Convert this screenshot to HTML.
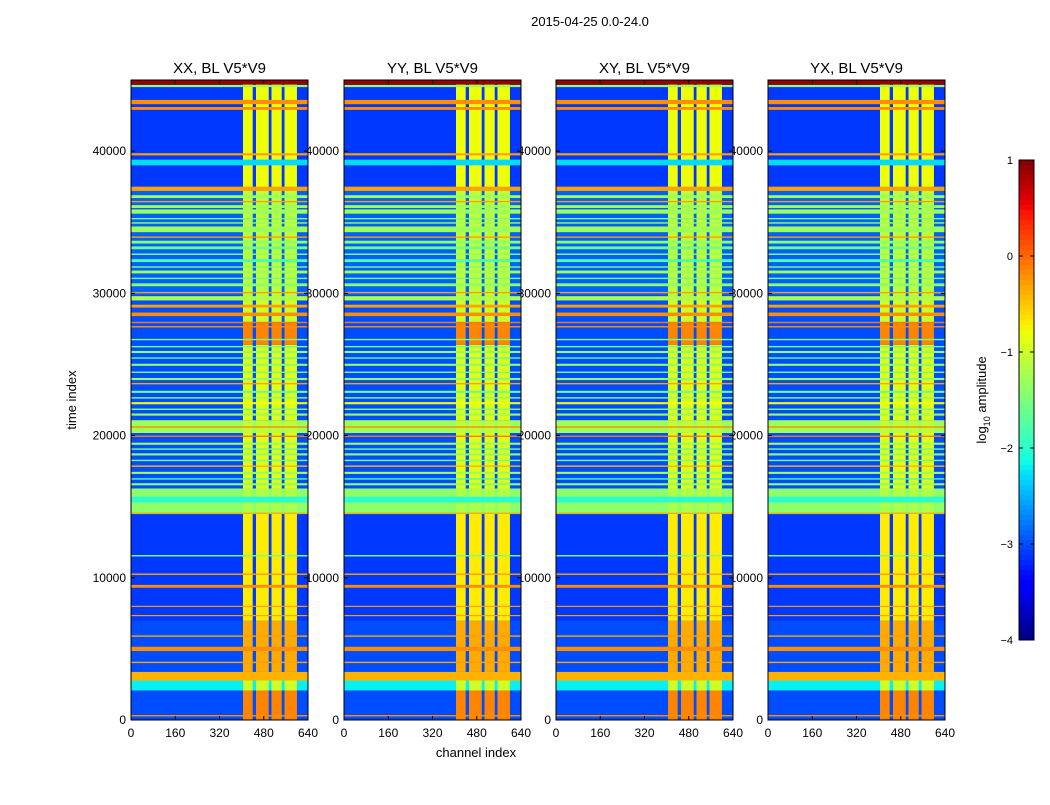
<!DOCTYPE html>
<html><head><meta charset="utf-8"><style>
body{margin:0;background:#fff;}
svg text{font-family:"Liberation Sans",sans-serif;}
</style></head><body>
<svg id="fig" width="1050" height="800" xmlns="http://www.w3.org/2000/svg">
<rect width="1050" height="800" fill="#fff"/>
<text x="590" y="26" font-size="13" text-anchor="middle">2015-04-25 0.0-24.0</text>
<text x="476" y="757" font-size="13" text-anchor="middle">channel index</text>
<text transform="translate(76,400) rotate(-90)" font-size="13" text-anchor="middle">time index</text>
<g id="panels"></g>
<g id="cbar"></g>
</svg>
<script>
// ---- data ----
const panelTitles = ["XX, BL V5*V9","YY, BL V5*V9","XY, BL V5*V9","YX, BL V5*V9"];
const xTicks = [0,160,320,480,640];
const yTicks = [0,10000,20000,30000,40000];
const cbTicks = [1,0,-1,-2,-3,-4];
// time regions: start, end, background level, RFI-channel level (log10 amplitude)
const regionStart = [0,2100,2800,3400,7000,14500,16300,20200,21100,26400,28000,29900,37500,44700];
const regionEnd   = [2100,2800,3400,7000,14500,16300,20200,21100,26400,28000,29900,37500,44700,45000];
const regionBg    = [-3.0,-2.2,-0.4,-3.0,-3.1,-1.4,-3.0,-1.3,-3.0,-3.0,-3.0,-2.9,-3.1,0.9];
const regionRfi   = [-0.15,-1.0,-0.4,-0.35,-0.7,-1.2,-0.9,-1.1,-0.9,-0.15,-1.0,-1.1,-0.8,0.9];
// RFI channel blocks
const rfiStart = [405,452,508,555];
const rfiEnd   = [440,498,545,600];
// horizontal stripes: start, end, level
const stripeStart = [250,4000,4850,5850,7300,7950,9300,10200,11500,14500,15300,16500,16900,17300,17800,18200,18600,19000,19350,19900,20550,21400,21800,22200,22600,23000,23600,23900,24400,24900,25400,25800,26200,26700,27600,27900,28400,29000,29500,30000,30500,31000,31400,31800,32200,32700,33100,33500,33900,34300,34900,35200,35600,36000,36400,36700,37200,39000,39700,42900,43300,44500];
const stripeEnd   = [350,4100,5150,5950,7380,8030,9500,10300,11600,14580,15700,16650,17000,17450,17900,18300,18750,19100,19500,20000,20650,21550,21900,22350,22700,23150,23700,24050,24500,25050,25500,25950,26300,26800,27700,28000,28650,29200,29800,30100,30700,31100,31600,31900,32400,32800,33300,33700,34000,34700,35000,35300,35900,36200,36500,36900,37500,39400,39850,43100,43600,44650];
const stripeVal   = [-0.2,-0.3,-0.2,-0.3,-0.3,-0.3,-0.2,-0.3,-1.5,-0.3,-2.0,-1.4,-1.8,-1.3,-0.4,-1.5,-1.4,-1.6,-1.3,-0.1,-0.2,-1.3,-1.5,-0.8,-1.4,-1.6,-0.3,-1.4,-1.5,-1.4,-1.7,-1.4,-1.6,-1.5,-0.2,-0.1,-0.2,-0.3,-1.2,-0.3,-1.4,-1.6,-1.3,-1.5,-1.8,-1.4,-1.6,-1.4,-0.3,-1.3,-1.3,-1.5,-1.3,-1.3,-0.3,-1.3,-0.3,-2.3,-0.3,-0.2,-0.2,-1.3];

// ---- helpers ----
const JR=[[0,0],[0.35,0],[0.66,1],[0.89,1],[1,0.5]];
const JG=[[0,0],[0.125,0],[0.375,1],[0.64,1],[0.91,0],[1,0]];
const JB=[[0,0.5],[0.11,1],[0.34,1],[0.65,0],[1,0]];
function seg(s,t){for(let i=1;i<s.length;i++){if(t<=s[i][0]){const a=s[i-1],b=s[i];return a[1]+(b[1]-a[1])*(t-a[0])/(b[0]-a[0]);}}return s[s.length-1][1];}
function jet(v){
  let t=(v+4)/5; t=Math.max(0,Math.min(1,t));
  return `rgb(${Math.round(seg(JR,t)*255)},${Math.round(seg(JG,t)*255)},${Math.round(seg(JB,t)*255)})`;
}
const NS="http://www.w3.org/2000/svg";
function mk(tag,attrs,parent){const e=document.createElementNS(NS,tag);for(const k in attrs)e.setAttribute(k,attrs[k]);parent.appendChild(e);return e;}
const panelX=[131,344,556,768], PW=177, PT=80, PB=720;
const panels=document.getElementById('panels');
const labelsG=mk('g',{},panels), imgsG=mk('g',{},panels), frameG=mk('g',{},panels);
panelX.forEach((x0,p)=>{
  const xs=c=>x0+c/640*PW, ys=t=>PB-t/45000*(PB-PT);
  yTicks.forEach(t=>{const e=mk('text',{x:x0-5,y:ys(t)+4,'font-size':12,'text-anchor':'end'},labelsG);e.textContent=t;
    
    });
  xTicks.forEach(c=>{const e=mk('text',{x:xs(c),y:737,'font-size':12,'text-anchor':'middle'},labelsG);e.textContent=c;
    
    });
  const g=mk('g',{},imgsG);
  
  
  regionStart.forEach((s,i)=>{
    const y1=ys(regionEnd[i]), y2=ys(s);
    const r=mk('rect',{x:x0,y:y1,width:PW,height:y2-y1+0.3,fill:jet(regionBg[i])},g);
    
    
    rfiStart.forEach((c,j)=>{
      const q=mk('rect',{x:xs(c),y:y1,width:xs(rfiEnd[j])-xs(c),height:y2-y1+0.3,fill:jet(regionRfi[i])},g);
      
      
    });
  });
  stripeStart.forEach((s,i)=>{
    const y1=ys(stripeEnd[i]), y2=ys(s);
    const r=mk('rect',{x:x0,y:y1,width:PW,height:Math.max(1,y2-y1),fill:jet(stripeVal[i])},g);
    
    
  });
  mk('rect',{x:x0,y:PT,width:PW,height:PB-PT,fill:'none',stroke:'#000','stroke-width':1},frameG);
  xTicks.forEach(c=>{mk('line',{x1:xs(c),x2:xs(c),y1:PB,y2:PB-4,stroke:'#000'},frameG);mk('line',{x1:xs(c),x2:xs(c),y1:PT,y2:PT+4,stroke:'#000'},frameG);});
  yTicks.forEach(t=>{mk('line',{x1:x0,x2:x0+4,y1:ys(t),y2:ys(t),stroke:'#000'},frameG);mk('line',{x1:x0+PW,x2:x0+PW-4,y1:ys(t),y2:ys(t),stroke:'#000'},frameG);});
  const tt=mk('text',{x:x0+PW/2,y:73,'font-size':15,'text-anchor':'middle'},frameG);tt.textContent=panelTitles[p];
  
  
});
// colorbar
const cb=document.getElementById('cbar');


const cy=v=>160+(1-v)*96;
for(let i=0;i<96;i++){const v=1-i*5/96;mk('rect',{x:1019,y:160+i*5,width:15,height:5.3,fill:jet(v-5/192)},cb);}
mk('rect',{x:1019,y:160,width:15,height:480,fill:'none',stroke:'#000'},cb);
cbTicks.forEach(v=>{mk('line',{x1:1019,x2:1023,y1:cy(v),y2:cy(v),stroke:'#000'},cb);mk('line',{x1:1034,x2:1030,y1:cy(v),y2:cy(v),stroke:'#000'},cb);
  const e=mk('text',{x:1013,y:cy(v)+4,'font-size':11,'text-anchor':'end'},cb);e.textContent=v<0?'\u2212'+(-v):v;
  
  });
const cl=mk('text',{transform:'translate(986,400) rotate(-90)','font-size':13,'text-anchor':'middle'},cb);
cl.innerHTML='log<tspan font-size="9" dy="4">10</tspan><tspan dy="-4"> amplitude</tspan>';


</script>
</body></html>
